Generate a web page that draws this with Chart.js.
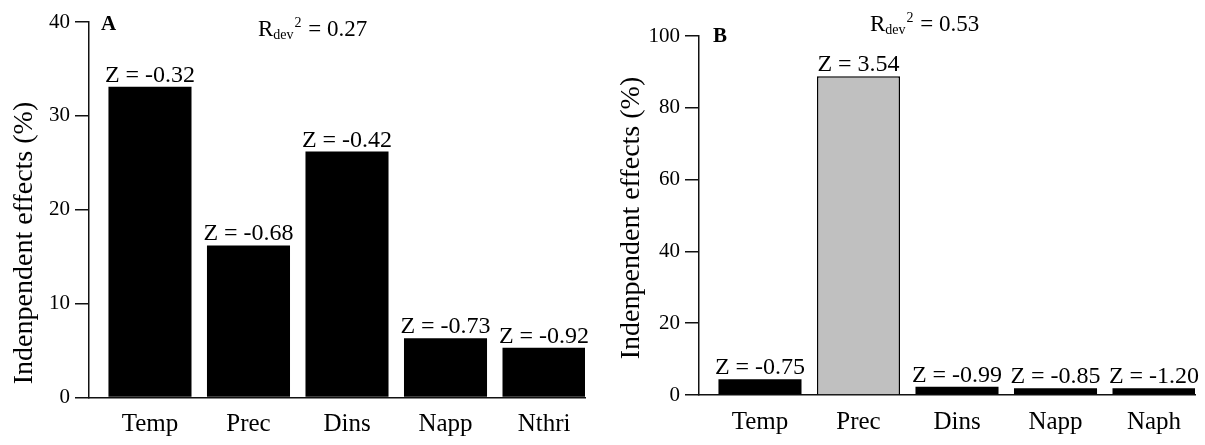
<!DOCTYPE html>
<html>
<head>
<meta charset="utf-8">
<script src="https://cdn.jsdelivr.net/npm/chart.js@4.4.1/dist/chart.umd.min.js"></script>
<style>
  html, body { margin:0; padding:0; background:#fff; }
  #wrap { position:relative; width:1205px; height:445px; overflow:hidden; }
  canvas { position:absolute; top:0; }
</style>
</head>
<body>
<div id="wrap">
  <canvas id="cA" width="600" height="445" style="left:0px"></canvas>
  <canvas id="cB" width="605" height="445" style="left:600px"></canvas>
</div>
<script>
// ---------- data ----------
const categoriesA = ["Temp", "Prec", "Dins", "Napp", "Nthri"];
const valuesA     = [33.1, 16.2, 26.2, 6.3, 5.3];
const zLabelsA    = ["Z = -0.32", "Z = -0.68", "Z = -0.42", "Z = -0.73", "Z = -0.92"];
const yTicksA     = [0, 10, 20, 30, 40];
const rdevA       = "0.27";

const categoriesB = ["Temp", "Prec", "Dins", "Napp", "Naph"];
const valuesB     = [4.4, 88.8, 2.3, 1.9, 1.9];
const zLabelsB    = ["Z = -0.75", "Z = 3.54", "Z = -0.99", "Z = -0.85", "Z = -1.20"];
const yTicksB     = [0, 20, 40, 60, 80, 100];
const rdevB       = "0.53";

const SERIF = '"Liberation Serif", "Times New Roman", serif';

function makeChart(canvasId, cfg) {
  const ctx = document.getElementById(canvasId);
  const pts = cfg.categories.map((c, i) => ({ x: i, y: cfg.values[i] }));
  const zPlugin = {
    id: 'zlab_' + canvasId,
    afterDatasetsDraw(chart) {
      const c = chart.ctx;
      const meta = chart.getDatasetMeta(0);
      c.save();
      c.fillStyle = '#000';
      c.font = '24px ' + SERIF;
      c.textAlign = 'center';
      c.textBaseline = 'alphabetic';
      meta.data.forEach((bar, i) => {
        c.fillText(cfg.zLabels[i], bar.x, bar.y - 5);
      });
      // panel letter
      c.font = 'bold 21px ' + SERIF;
      c.textAlign = 'left';
      c.fillText(cfg.letter, cfg.letterPos[0], cfg.letterPos[1]);
      // R_dev^2
      let x = cfg.rPos[0], y = cfg.rPos[1];
      c.font = '23px ' + SERIF;
      c.fillText('R', x, y); x += c.measureText('R').width;
      c.font = '14px ' + SERIF;
      c.fillText('dev', x, y + 3); x += c.measureText('dev').width;
      c.fillText('2', x + 1, y - 9); x += c.measureText('2').width + 2;
      c.font = '23px ' + SERIF;
      c.fillText(' = ' + cfg.rdev, x, y);
      // y title
      c.save();
      c.translate(cfg.titlePos[0], cfg.titlePos[1]);
      c.rotate(-Math.PI / 2);
      c.font = '28px ' + SERIF;
      c.textAlign = 'center';
      c.textBaseline = 'middle';
      c.fillText('Indenpendent effects (%)', 0, 0);
      c.restore();
      c.restore();
    }
  };
  return new Chart(ctx, {
    type: 'bar',
    data: {
      datasets: [{
        data: pts,
        backgroundColor: cfg.categories.map((c, i) => i === cfg.greyIndex ? '#c0c0c0' : '#000'),
        borderColor: '#000',
        borderWidth: cfg.categories.map((c, i) => i === cfg.greyIndex ? 1.5 : 0),
        borderSkipped: 'bottom',
        barPercentage: 0.843,
        categoryPercentage: 1.0
      }]
    },
    options: {
      responsive: false,
      devicePixelRatio: 1,
      animation: false,
      events: [],
      layout: { padding: { top: cfg.top, right: cfg.padRight, left: 0, bottom: 0 } },
      plugins: { legend: { display: false }, tooltip: { enabled: false } },
      scales: {
        x: {
          type: 'linear',
          offset: false,
          min: -0.619,
          max: 4.416,
          afterBuildTicks(scale) { scale.ticks = cfg.categories.map((c, i) => ({ value: i })); },
          afterFit(scale) { scale.height = cfg.xHeight; },
          grid: { display: false, drawTicks: false, offset: false },
          border: { display: true, color: '#111', width: 1.5 },
          ticks: {
            autoSkip: false,
            maxRotation: 0,
            padding: 12,
            color: '#000',
            font: { family: SERIF, size: 25 },
            callback: (v) => cfg.categories[v]
          }
        },
        y: {
          min: 0,
          max: cfg.yTicks[cfg.yTicks.length - 1],
          afterBuildTicks(scale) { scale.ticks = cfg.yTicks.map(v => ({ value: v })); },
          afterFit(scale) { scale.width = cfg.yWidth; },
          grid: { display: true, drawOnChartArea: false, drawTicks: true, tickLength: 14, color: '#111', lineWidth: 1.5 },
          border: { display: true, color: '#111', width: 1.5 },
          ticks: {
            padding: 5,
            color: '#000',
            font: { family: SERIF, size: 21 }
          }
        }
      }
    },
    plugins: [zPlugin]
  });
}

makeChart('cA', {
  categories: categoriesA, values: valuesA, zLabels: zLabelsA, yTicks: yTicksA, rdev: rdevA,
  greyIndex: -1, letter: 'A', letterPos: [101, 30], rPos: [258, 36], titlePos: [25, 243],
  top: 22, padRight: 15, xHeight: 47.5, yWidth: 89
});
makeChart('cB', {
  categories: categoriesB, values: valuesB, zLabels: zLabelsB, yTicks: yTicksB, rdev: rdevB,
  greyIndex: 1, letter: 'B', letterPos: [113, 42], rPos: [270, 31], titlePos: [32, 218],
  top: 36, padRight: 10, xHeight: 50, yWidth: 99
});
</script>
</body>
</html>
